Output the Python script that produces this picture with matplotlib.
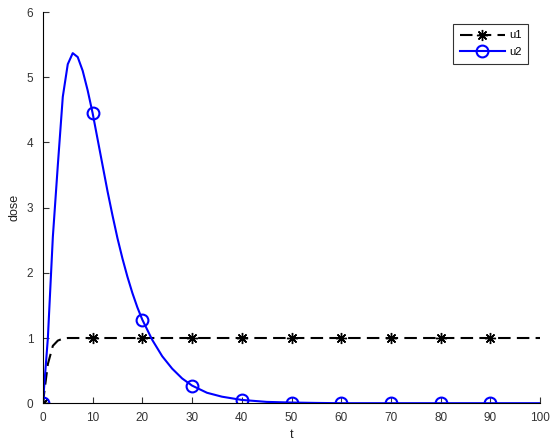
import matplotlib.pyplot as plt

t = [0, 1, 2, 3, 4, 5, 6, 7, 8, 9, 10, 11, 12, 13, 14, 15, 16, 17, 18, 19, 20,
     22, 24, 26, 28, 30, 33, 36, 40, 45, 50, 55, 60, 70, 80, 90, 100]
u1 = [0, 0.6, 0.88, 0.96, 0.99, 1.0, 1.0, 1.0, 1.0, 1.0, 1.0, 1.0, 1.0, 1.0, 1.0, 1.0, 1.0, 1.0, 1.0, 1.0, 1.0,
      1.0, 1.0, 1.0, 1.0, 1.0, 1.0, 1.0, 1.0, 1.0, 1.0, 1.0, 1.0, 1.0, 1.0, 1.0, 1.0]
u2 = [0, 1.0, 2.55, 3.65, 4.7, 5.2, 5.37, 5.31, 5.1, 4.8, 4.45, 4.05, 3.65, 3.25, 2.88, 2.53, 2.22, 1.94, 1.69, 1.47, 1.28,
      0.97, 0.72, 0.53, 0.38, 0.27, 0.16, 0.1, 0.05, 0.02, 0.01, 0.004, 0, 0, 0, 0, 0]
marker_t = [0, 10, 20, 30, 40, 50, 60, 70, 80, 90]

plt.rcParams['font.family'] = ['Liberation Sans', 'DejaVu Sans']

fig = plt.figure(figsize=(5.5, 4.47), dpi=100)
ax = fig.add_axes([0.078, 0.098, 0.904, 0.875])

marks = [t.index(m) for m in marker_t]
ax.plot(t, u1, color='black', linestyle=(0, (6, 3)), linewidth=1.5,
        marker=(8, 2, 0), markersize=8, markeredgewidth=1.0, markevery=marks, label='u1')
ax.plot(t, u2, color='#0000ff', linewidth=1.5, marker='o', markersize=8.5,
        markerfacecolor='none', markeredgewidth=1.5, markevery=marks, label='u2')

ax.set_xlim(0, 100)
ax.set_ylim(0, 6)
ax.set_xticks(range(0, 101, 10))
ax.set_yticks(range(0, 7))
ax.tick_params(direction='in', length=4, labelsize=8.5, colors='#333333')
ax.tick_params(axis='y', pad=7)
ax.tick_params(axis='x', pad=6)
ax.spines['top'].set_visible(False)
ax.spines['right'].set_visible(False)
ax.set_xlabel('t', fontsize=9, color='#222222')
ax.set_ylabel('dose', fontsize=9, color='#222222')

leg = ax.legend(loc='upper right', bbox_to_anchor=(0.976, 0.97), fancybox=False,
                edgecolor='black', fontsize=8, handlelength=4, handletextpad=0.4,
                labelspacing=0.6, borderpad=0.6, borderaxespad=0)
leg.get_frame().set_linewidth(0.8)

plt.savefig('out.png')
plt.close()
